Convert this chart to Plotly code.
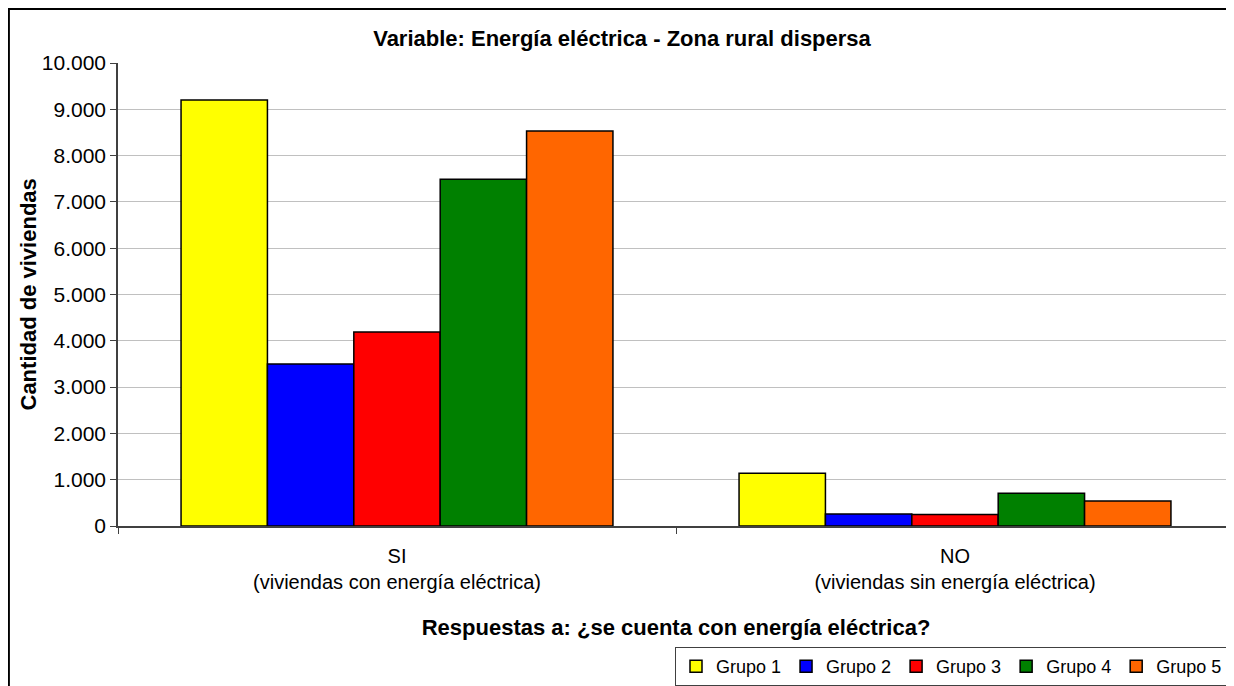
import plotly.graph_objects as go

categorias = ["SI<br>(viviendas con energía eléctrica)", "NO<br>(viviendas sin energía eléctrica)"]
grupos = ["Grupo 1", "Grupo 2", "Grupo 3", "Grupo 4", "Grupo 5"]
grupo1 = [9200, 1140]
grupo2 = [3500, 260]
grupo3 = [4190, 250]
grupo4 = [7490, 710]
grupo5 = [8530, 540]
colores = ["#ffff00", "#0000ff", "#ff0000", "#008000", "#ff6600"]

fig = go.Figure()
for nombre, vals, col in zip(grupos, [grupo1, grupo2, grupo3, grupo4, grupo5], colores):
    fig.add_trace(go.Bar(x=categorias, y=vals, name=nombre,
                         marker=dict(color=col, line=dict(color="black", width=1.5))))

# la página añade 8px de margen al body
W, H = 1226, 678
L, T, B = 110, 55, 160
pw = W - L
ph = H - T - B

fig.update_layout(
    width=W, height=H,
    margin=dict(l=L, r=0, t=T, b=B, autoexpand=False),
    paper_bgcolor="white", plot_bgcolor="white",
    font=dict(family="Liberation Sans, Arial", size=21, color="black"),
    separators=",.",
    barmode="group", bargap=0.226, bargroupgap=0,
    title=dict(text="<b>Variable: Energía eléctrica - Zona rural dispersa</b>",
               x=614 / W, xref="container", xanchor="center",
               y=1 - 30 / H, yanchor="middle", font=dict(size=22)),
    xaxis=dict(title=dict(text="<b>Respuestas a: ¿se cuenta con energía eléctrica?</b>",
                          font=dict(size=22), standoff=28),
               showline=True, linecolor="#404040", linewidth=1.5,
               ticks="outside", tickson="boundaries", ticklen=6, tickcolor="#404040",
               ticklabelstandoff=11, tickfont=dict(size=20), automargin=False),
    yaxis=dict(range=[0, 10000], dtick=1000, tickformat=",d",
               showline=True, linecolor="#404040", linewidth=1.5,
               ticks="outside", ticklen=6, tickcolor="#404040",
               showgrid=True, gridcolor="#c0c0c0", gridwidth=1,
               tickfont=dict(size=21), zeroline=False, automargin=False),
    legend=dict(orientation="h", xref="container", yref="container",
                x=1220 / W, xanchor="right", y=1 - 639 / H, yanchor="top",
                bordercolor="#404040", borderwidth=1, bgcolor="white",
                font=dict(size=18), traceorder="normal", itemwidth=30),
    annotations=[dict(text="<b>Cantidad de viviendas</b>", textangle=-90,
                      xref="paper", yref="paper", x=(20 - L) / pw, y=0.5,
                      xanchor="center", yanchor="middle", showarrow=False,
                      font=dict(size=22))],
    shapes=[dict(type="rect", xref="paper", yref="paper",
                 x0=-L / pw + 0.0008, x1=1.2, y0=-0.5, y1=1 + T / ph - 0.002,
                 line=dict(color="black", width=2), fillcolor="rgba(0,0,0,0)",
                 layer="below")],
)

fig.write_html("out.html")
